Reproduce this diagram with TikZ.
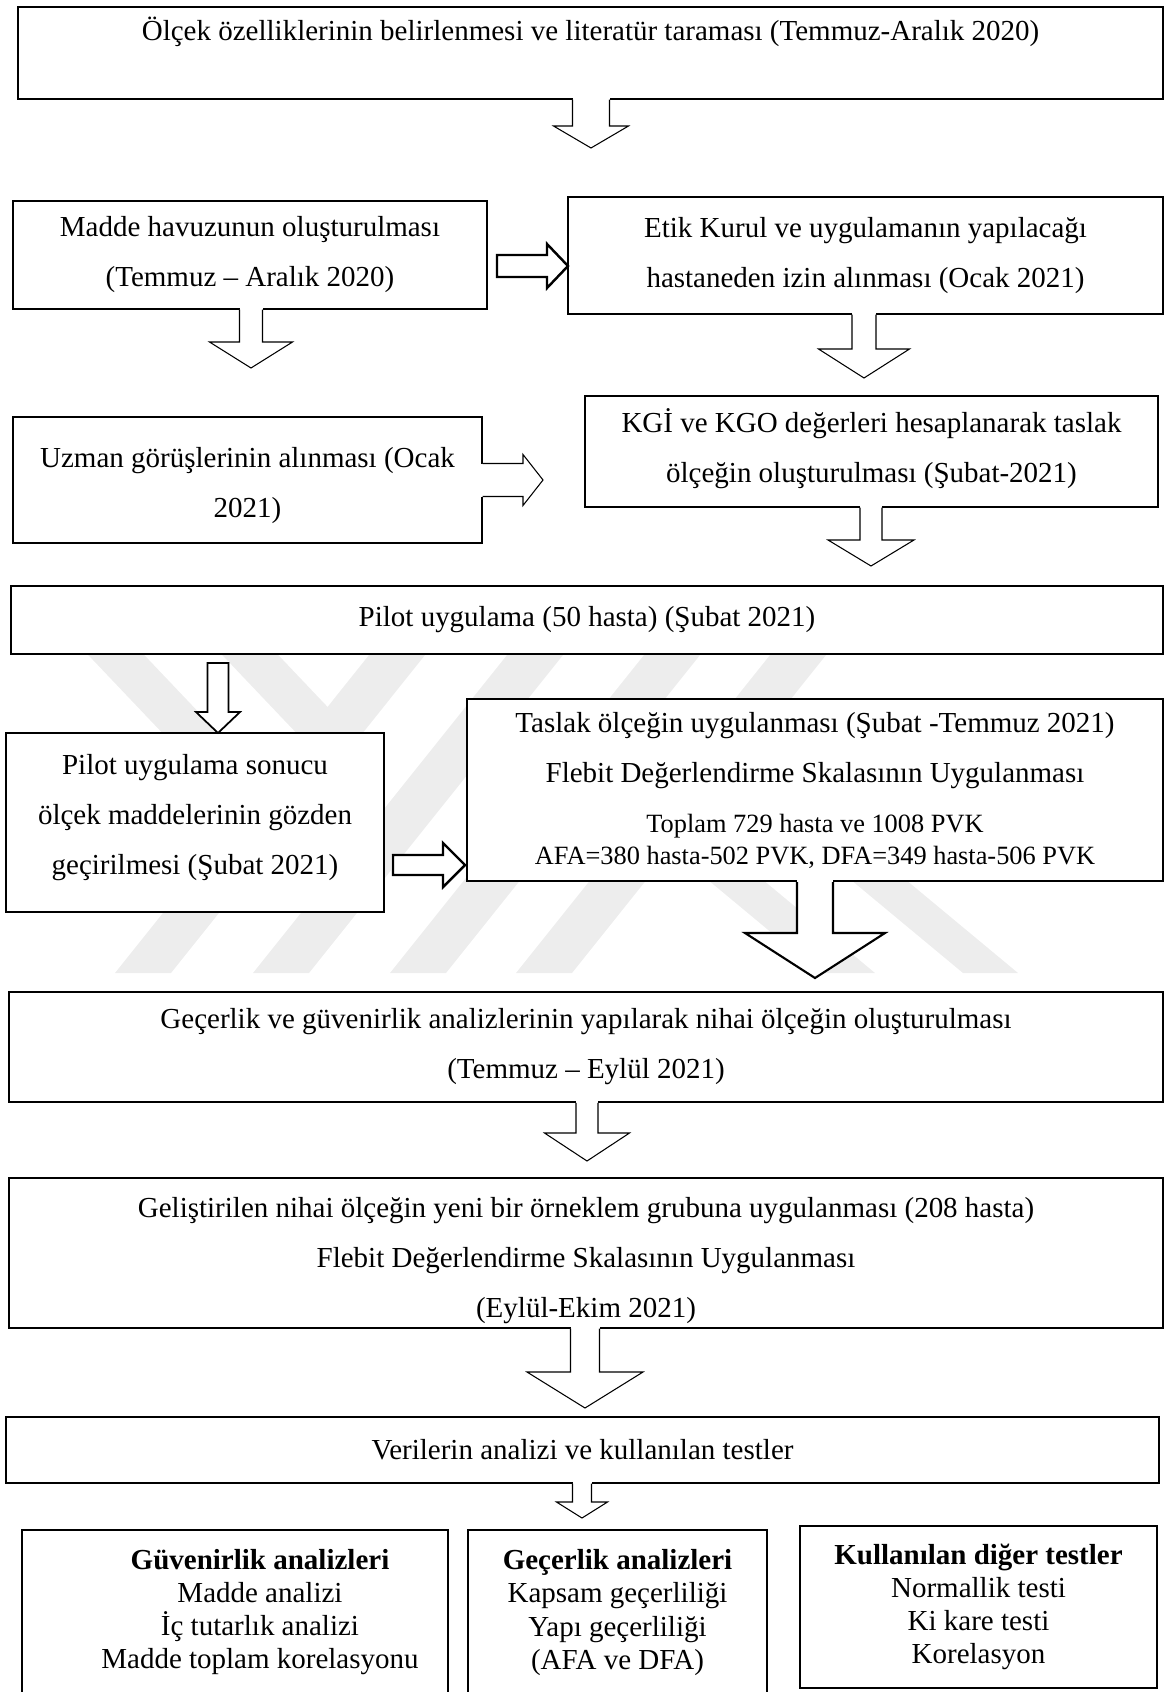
\documentclass[tikz,border=0pt]{standalone}
\usepackage{fontspec}
\setmainfont{Liberation Serif}
\usetikzlibrary{calc}
\definecolor{wmgray}{gray}{0.93}

% hollow block arrows: [style]{from}{tip}{half shaft}{half head}{head length}{end}
\newcommand{\hollowdown}[7][]{%
  \fill[white] let \p1=(#2), \p2=(#3) in (\x2-#4,\y1+1pt) rectangle (\x2+#4,\y2+#6);
  \filldraw[fill=white, arrowline, #1] let \p1=(#2), \p2=(#3) in
    (\x2-#4,\y1) -- (\x2-#4,\y2+#6) -- (\x2-#5,\y2+#6) -- (\x2,\y2)
    -- (\x2+#5,\y2+#6) -- (\x2+#4,\y2+#6) -- (\x2+#4,\y1) #7;}
\newcommand{\hollowright}[7][]{%
  \fill[white] let \p1=(#2), \p2=(#3) in (\x1-1pt,\y2-#4) rectangle (\x2-#6,\y2+#4);
  \filldraw[fill=white, arrowline, #1] let \p1=(#2), \p2=(#3) in
    (\x1,\y2+#4) -- (\x2-#6,\y2+#4) -- (\x2-#6,\y2+#5) -- (\x2,\y2)
    -- (\x2-#6,\y2-#5) -- (\x2-#6,\y2-#4) -- (\x1,\y2-#4) #7;}

\begin{document}
\begin{tikzpicture}[
box/.style={draw, fill=white, line width=0.6pt, inner sep=0pt, align=center,
  font=\fontsize{16.5}{28.45}\selectfont},
heavyline/.style={line width=1.4pt},
midline/.style={line width=1pt},
arrowline/.style={line width=0.6pt, line join=miter},
wm/.style={fill=wmgray}]
\tikzstyle{listtext}=[align=center, font=\fontsize{16.5}{18.8}\selectfont]

\useasboundingbox (0,0) rectangle (23.3,-33.84);

%Filigran
\fill[wm] (2.30,-19.46) -- (3.42,-19.46) -- (9.06,-12.4) -- (7.94,-12.4) -- cycle;
\fill[wm] (5.06,-19.46) -- (6.18,-19.46) -- (11.82,-12.4) -- (10.70,-12.4) -- cycle;
\fill[wm] (7.80,-19.46) -- (8.92,-19.46) -- (14.56,-12.4) -- (13.44,-12.4) -- cycle;
\fill[wm] (10.32,-19.46) -- (11.44,-19.46) -- (17.08,-12.4) -- (15.96,-12.4) -- cycle;
\fill[wm] (1.10,-12.4) -- (2.22,-12.4) -- (4.88,-15.2) -- (3.76,-15.2) -- cycle;
\fill[wm] (3.78,-12.4) -- (4.90,-12.4) -- (7.56,-15.2) -- (6.44,-15.2) -- cycle;
\fill[wm] (13.68,-17.2) -- (14.78,-17.2) -- (17.50,-19.46) -- (16.40,-19.46) -- cycle;
\fill[wm] (16.54,-17.2) -- (17.64,-17.2) -- (20.36,-19.46) -- (19.26,-19.46) -- cycle;

%Kutular
\node[box, minimum width=22.9cm, minimum height=1.84cm, text depth=0.98cm] (olcek) at (11.81,-1.06)
  {Ölçek özelliklerinin belirlenmesi ve literatür taraması (Temmuz-Aralık 2020)};
\node[box, minimum width=9.48cm, minimum height=2.16cm] (madde) at (5.0,-5.1)
  {Madde havuzunun oluşturulması\\(Temmuz – Aralık 2020)};
\node[box, minimum width=11.9cm, minimum height=2.34cm] (etik) at (17.31,-5.11)
  {Etik Kurul ve uygulamanın yapılacağı\\hastaneden izin alınması (Ocak 2021)};
\node[box, minimum width=9.38cm, minimum height=2.52cm] (uzman) at (4.95,-9.6)
  {\rule{0pt}{0.62cm}Uzman görüşlerinin alınması (Ocak\\2021)};
\node[box, minimum width=11.46cm, minimum height=2.22cm, text depth=0.25cm] (kgi) at (17.43,-9.03)
  {KGİ ve KGO değerleri hesaplanarak taslak\\ölçeğin oluşturulması (Şubat-2021)};
\node[box, midline, minimum width=23.04cm, minimum height=1.36cm] (pilot) at (11.74,-12.4)
  {Pilot uygulama (50 hasta) (Şubat 2021)};
\node[box, heavyline, minimum width=7.56cm, minimum height=3.58cm, text depth=0.34cm] (sonuc) at (3.9,-16.45)
  {Pilot uygulama sonucu\\ölçek maddelerinin gözden\\geçirilmesi (Şubat 2021)};
\node[box, heavyline, minimum width=13.92cm, minimum height=3.64cm] (taslak) at (16.3,-15.8)
  {Taslak ölçeğin uygulanması (Şubat -Temmuz 2021)\\
   Flebit Değerlendirme Skalasının Uygulanması\\
   \fontsize{15}{18.2}\selectfont Toplam 729 hasta ve 1008 PVK\\[-10.25pt]
   \fontsize{15}{18.2}\selectfont AFA=380 hasta-502 PVK, DFA=349 hasta-506 PVK};
\node[box, midline, minimum width=23.08cm, minimum height=2.2cm] (gecerlik) at (11.72,-20.94)
  {Geçerlik ve güvenirlik analizlerinin yapılarak nihai ölçeğin oluşturulması\\(Temmuz – Eylül 2021)};
\node[box, minimum width=23.08cm, minimum height=3.0cm] (nihai) at (11.72,-25.06)
  {\rule{0pt}{0.71cm}Geliştirilen nihai ölçeğin yeni bir örneklem grubuna uygulanması (208 hasta)\\
   Flebit Değerlendirme Skalasının Uygulanması\\(Eylül-Ekim 2021)};
\node[box, minimum width=23.06cm, minimum height=1.32cm] (veri) at (11.65,-29.0)
  {Verilerin analizi ve kullanılan testler};

%Testler
\node[box, heavyline, minimum width=8.52cm, minimum height=3.4cm] (guven) at (4.7,-32.3) {};
\node[listtext] (guvenyazi) at (5.2,-32.24)
  {\textbf{Güvenirlik analizleri}\\Madde analizi\\İç tutarlık analizi\\Madde toplam korelasyonu};
\node[box, listtext, heavyline, minimum width=5.98cm, minimum height=3.3cm] (gecer) at (12.35,-32.25)
  {\textbf{Geçerlik analizleri}\\Kapsam geçerliliği\\Yapı geçerliliği\\(AFA ve DFA)};
\node[box, listtext, heavyline, minimum width=7.14cm, minimum height=3.24cm] (diger) at (19.57,-32.14)
  {\textbf{Kullanılan diğer testler}\\Normallik testi\\Ki kare testi\\Korelasyon};

%Oklar
\coordinate (t1) at (11.82,-2.96);
\coordinate (t2) at (5.02,-7.36);
\coordinate (t3) at (17.28,-7.56);
\coordinate (t4) at (17.42,-11.32);
\coordinate (s5) at (4.36,-13.26);
\coordinate (t5) at (4.36,-14.66);
\coordinate (t6) at (16.3,-19.56);
\coordinate (t7) at (11.74,-23.22);
\coordinate (t8) at (11.7,-28.16);
\coordinate (t9) at (11.64,-30.36);
\coordinate (sb) at (9.94,-5.32);
\coordinate (tb) at (11.36,-5.32);
\coordinate (tc) at (10.86,-9.6);
\coordinate (sd) at (7.86,-17.3);
\coordinate (td) at (9.3,-17.3);

\hollowdown{olcek.south}{t1}{0.37cm}{0.75cm}{0.44cm}{}
\hollowdown{madde.south}{t2}{0.23cm}{0.83cm}{0.52cm}{}
\hollowdown{etik.south}{t3}{0.24cm}{0.91cm}{0.58cm}{}
\hollowdown{kgi.south}{t4}{0.22cm}{0.86cm}{0.52cm}{}
\hollowdown[midline]{s5}{t5}{0.21cm}{0.44cm}{0.42cm}{-- cycle}
\hollowdown[line width=1.2pt]{taslak.south}{t6}{0.36cm}{1.4cm}{0.9cm}{}
\hollowdown{gecerlik.south}{t7}{0.22cm}{0.85cm}{0.56cm}{}
\hollowdown{nihai.south}{t8}{0.29cm}{1.16cm}{0.72cm}{}
\hollowdown{veri.south}{t9}{0.19cm}{0.51cm}{0.32cm}{}
\hollowright[heavyline]{sb}{tb}{0.22cm}{0.44cm}{0.42cm}{-- cycle}
\hollowright{uzman.east}{tc}{0.33cm}{0.51cm}{0.4cm}{}
\hollowright[heavyline]{sd}{td}{0.2cm}{0.44cm}{0.44cm}{-- cycle}
\end{tikzpicture}
\end{document}
